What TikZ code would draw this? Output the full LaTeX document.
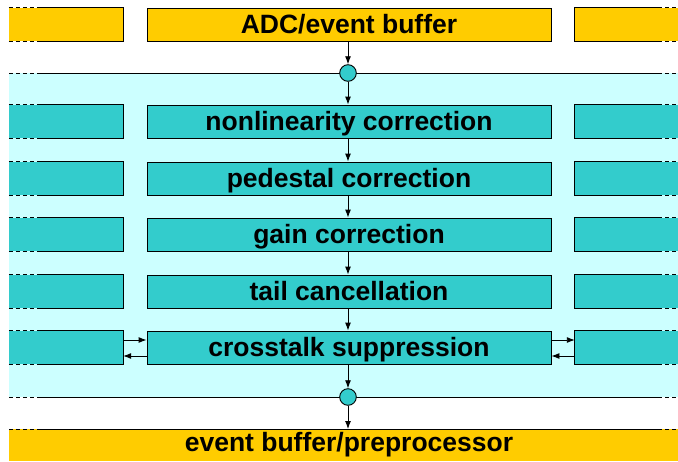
\documentclass[tikz,border=0pt]{standalone}
\usepackage{fontspec}
\setmainfont{Liberation Sans}
\usetikzlibrary{arrows.meta}
\definecolor{bufyellow}{HTML}{FFCC00}
\definecolor{stagecyan}{HTML}{33CCCC}
\definecolor{bandcyan}{HTML}{CCFFFF}
\tikzset{
  edge/.style={line width=0.9pt},
  dashedge/.style={line width=0.9pt, dash pattern=on 4pt off 3pt},
  label/.style={font=\bfseries\fontsize{26.5}{28}\selectfont},
  stage/.style={rectangle, draw, edge, fill=stagecyan, minimum width=404pt,
    minimum height=33pt, inner sep=0pt, text height=25pt, text depth=8pt, label},
  buffer/.style={stage, fill=bufyellow},
  sidel/.style={rectangle, minimum width=114pt, minimum height=33pt, inner sep=0pt},
  sider/.style={rectangle, minimum width=103pt, minimum height=33pt, inner sep=0pt},
  junction/.style={circle, draw, edge, fill=stagecyan, minimum size=16.6pt, inner sep=0pt},
  flow/.style={edge, -{Latex[length=8pt,width=6pt]}},
}
% edges of a box cut off at the left margin
\newcommand\leftedges[1]{%
  \draw[dashedge] (#1.north west) -- ++(32,0);
  \draw[edge] ([xshift=32pt]#1.north west) -- (#1.north east) -- (#1.south east)
    -- ([xshift=32pt]#1.south west);
  \draw[dashedge] (#1.south west) -- ++(32,0);
}
% edges of a box cut off at the right margin
\newcommand\rightedges[1]{%
  \draw[edge] ([xshift=-20pt]#1.north east) -- (#1.north west) -- (#1.south west)
    -- ([xshift=-20pt]#1.south east);
  \draw[dashedge] ([xshift=-20pt]#1.north east) -- (#1.north east);
  \draw[dashedge] ([xshift=-20pt]#1.south east) -- (#1.south east);
}
\begin{document}
\begin{tikzpicture}[x=1pt,y=-1pt]
\useasboundingbox (0,0) rectangle (678,461);

% processing band
\fill[bandcyan] (9,73) rectangle (678,397);
\foreach \yy in {73,397}{
  \draw[dashedge] (9,\yy) -- (41,\yy);
  \draw[edge] (41,\yy) -- (658,\yy);
  \draw[dashedge] (658,\yy) -- (678,\yy);
}

% input buffer row
\node[sidel, fill=bufyellow] (L0) at (66,24.5) {};
\node[sider, fill=bufyellow] (R0) at (626.5,24.5) {};
\leftedges{L0}
\rightedges{R0}
\node[buffer] (adc) at (349,24.5) {ADC/event buffer};

% stage rows
\foreach \n/\yy in {1/121.5,2/178.5,3/234.5,4/291.5,5/347.5}{
  \node[sidel, fill=stagecyan] (L\n) at (66,\yy) {};
  \node[sider, fill=stagecyan] (R\n) at (626.5,\yy) {};
  \leftedges{L\n}
  \rightedges{R\n}
}
\node[stage] (nl) at (349,121.5) {nonlinearity correction};
\node[stage] (ped) at (349,178.5) {pedestal correction};
\node[stage] (gain) at (349,234.5) {gain correction};
\node[stage] (tail) at (349,291.5) {tail cancellation};
\node[stage] (xt) at (349,347.5) {crosstalk suppression};

% output buffer
\fill[bufyellow] (9,429) rectangle (678,461);
\draw[dashedge] (9,429) -- (41,429);
\draw[edge] (41,429) -- (658,429);
\draw[dashedge] (658,429) -- (678,429);
\node[label, anchor=base] (out) at (349,451) {event buffer/preprocessor};
\coordinate (outtop) at (348,429);

% junctions
\node[junction] (jin) at (348,73) {};
\node[junction] (jout) at (348,397) {};

% data flow
\draw[flow] (adc.south -| jin) -- (jin);
\draw[flow] (jin) -- (nl.north -| jin);
\draw[flow] (nl.south -| jin) -- (ped.north -| jin);
\draw[flow] (ped.south -| jin) -- (gain.north -| jin);
\draw[flow] (gain.south -| jin) -- (tail.north -| jin);
\draw[flow] (tail.south -| jin) -- (xt.north -| jin);
\draw[flow] (xt.south -| jin) -- (jout);
\draw[flow] (jout) -- (outtop);

% neighbour exchange for crosstalk
\draw[flow] ([yshift=7.5pt]L5.east) -- ([yshift=7.5pt]xt.west);
\draw[flow] ([yshift=-8.5pt]xt.west) -- ([yshift=-8.5pt]L5.east);
\draw[flow] ([yshift=7.5pt]xt.east) -- ([yshift=7.5pt]R5.west);
\draw[flow] ([yshift=-8.5pt]R5.west) -- ([yshift=-8.5pt]xt.east);
\end{tikzpicture}
\end{document}
